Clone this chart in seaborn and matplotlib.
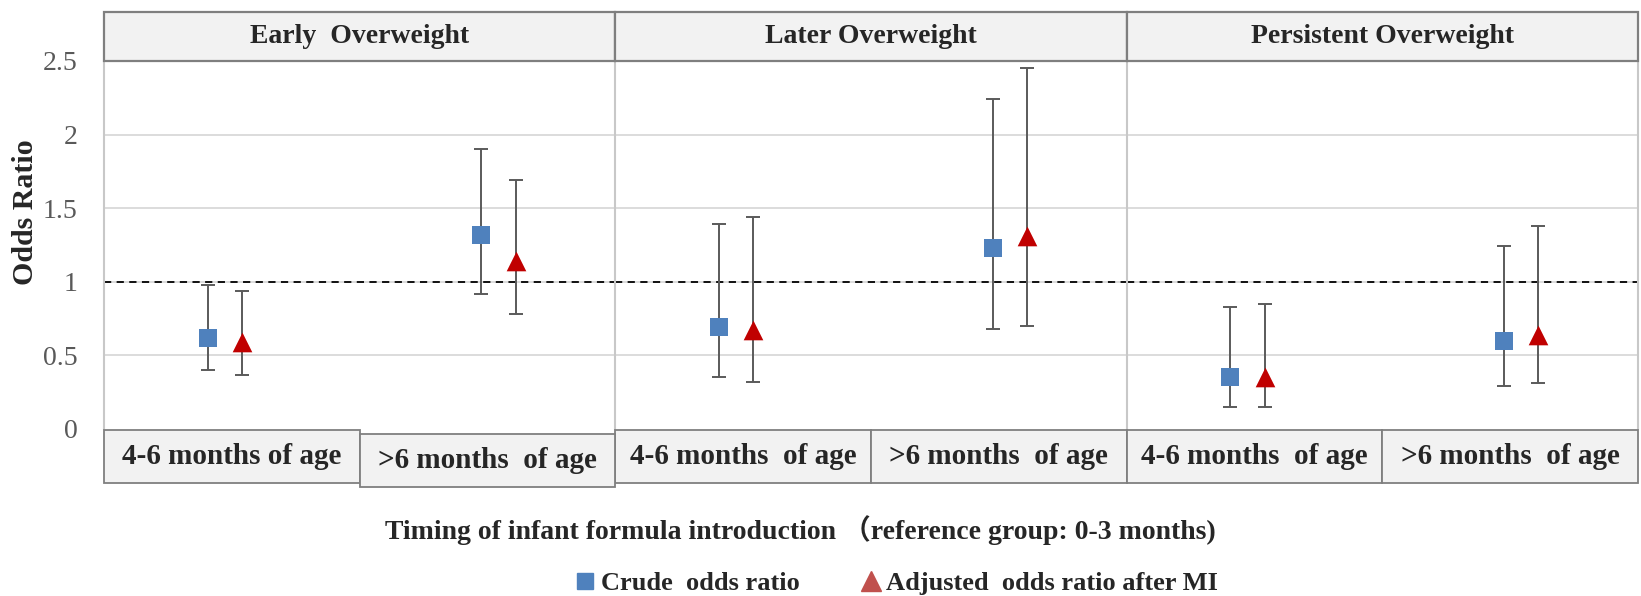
import numpy as np
import pandas as pd
import matplotlib
matplotlib.use("Agg")
import matplotlib.pyplot as plt
from matplotlib.patches import Rectangle
from matplotlib.lines import Line2D
import seaborn as sns

# ---------------- data ----------------
panels = ["Early  Overweight", "Later Overweight", "Persistent Overweight"]
cat_labels = ["4-6 months of age", ">6 months  of age",
              "4-6 months  of age", ">6 months  of age",
              "4-6 months  of age", ">6 months  of age"]
series = ["Crude  odds ratio", "Adjusted  odds ratio after MI"]

crude_or = [0.62, 1.32, 0.69, 1.23, 0.35, 0.60]
crude_lo = [0.40, 0.92, 0.35, 0.68, 0.15, 0.29]
crude_hi = [0.98, 1.90, 1.39, 2.24, 0.83, 1.24]
adj_or = [0.59, 1.14, 0.67, 1.31, 0.35, 0.64]
adj_lo = [0.37, 0.78, 0.32, 0.70, 0.15, 0.31]
adj_hi = [0.94, 1.69, 1.44, 2.45, 0.85, 1.38]

y_ticks = [0, 0.5, 1, 1.5, 2, 2.5]
y_tick_labels = ["0", "0.5", "1", "1.5", "2", "2.5"]
x_title = "Timing of infant formula introduction \uff08reference group: 0-3 months)"
y_title = "Odds Ratio"

# ---------------- layout / style ----------------
W, H = 1641, 596
fig = plt.figure(figsize=(W / 100, H / 100), dpi=100)
sns.set_style("white")
SERIF = ["Liberation Serif", "Noto Sans CJK SC", "DejaVu Sans"]
plt.rcParams["font.family"] = SERIF

blue = "#4F81BD"
red = "#C00000"
err_col = "#5A5A5A"
box_fill = "#F2F2F2"
box_edge = "#7F7F7F"

left_px, right_px = 104, 1638
y0_px, ytop_px = 429, 61
head_top_px = 12.5
cat_top_px, cat_bot_px = 430, 483

def fx(px):
    return px / W

def fy(py):
    return 1 - py / H

pw = (right_px - left_px) / 3
cat_pos = [0.473, 1.543]       # x positions of each timing group on a 0..2 panel axis
offs = [-0.067, 0.067]         # series offsets
markers = ["s", "^"]
colors = [blue, red]
msizes = [150, 200]

rows = []
for p in range(3):
    for c in range(2):
        k = p * 2 + c
        rows.append(dict(panel=p, cat=c, series=series[0], val=crude_or[k],
                         lo=crude_lo[k], hi=crude_hi[k]))
        rows.append(dict(panel=p, cat=c, series=series[1], val=adj_or[k],
                         lo=adj_lo[k], hi=adj_hi[k]))
df = pd.DataFrame(rows)
df["x"] = [cat_pos[c] + offs[series.index(s)] for c, s in zip(df["cat"], df["series"])]

axes = []
for p in range(3):
    ax = fig.add_axes([fx(left_px + p * pw), fy(y0_px), fx(pw), fy(ytop_px) - fy(y0_px)])
    axes.append(ax)
    sub = df[df.panel == p]
    ax.set_xlim(0, 2)
    ax.set_ylim(0, 2.5)
    for yv in y_ticks[1:-1]:
        ax.axhline(yv, color="#D9D9D9", lw=1.3, zorder=0)
    ax.axhline(1, color="black", lw=1.3, ls=(0, (4, 3)), zorder=1)
    for si, s in enumerate(series):
        d = sub[sub.series == s]
        ax.errorbar(d["x"], d["val"], yerr=[d["val"] - d["lo"], d["hi"] - d["val"]],
                    fmt="none", ecolor=err_col, elinewidth=1.4, capsize=5,
                    capthick=1.4, zorder=2)
        sns.scatterplot(data=d, x="x", y="val", marker=markers[si], color=colors[si],
                        s=msizes[si], linewidth=0, ax=ax, zorder=3, legend=False)
    ax.set_xticks([])
    ax.set_xlabel("")
    ax.set_ylabel("")
    ax.set_yticks(y_ticks)
    if p == 0:
        ax.set_yticklabels(y_tick_labels, fontsize=20, color="#595959")
        ax.tick_params(axis="y", length=0, pad=19)
    else:
        ax.set_yticklabels([])
        ax.tick_params(axis="y", length=0)
    for sp in ["top", "bottom"]:
        ax.spines[sp].set_visible(False)
    ax.spines["left"].set_color("#C8C8C8")
    ax.spines["left"].set_linewidth(1.5)
    ax.spines["right"].set_visible(p == 2)
    ax.spines["right"].set_color("#C8C8C8")
    ax.spines["right"].set_linewidth(1.5)

    # header box
    fig.patches.append(Rectangle((fx(left_px + p * pw), fy(ytop_px)), fx(pw),
                                 fy(head_top_px) - fy(ytop_px), transform=fig.transFigure,
                                 facecolor=box_fill, edgecolor=box_edge, lw=1.6, zorder=5))
    fig.text(fx(left_px + (p + 0.5) * pw), fy((head_top_px + ytop_px) / 2), panels[p],
             ha="center", va="center", fontsize=20, fontweight="bold", zorder=6)

    # category boxes
    for c in range(2):
        k = p * 2 + c
        x0 = left_px + p * pw + c * pw / 2
        dy = 4 if k == 1 else 0
        fig.patches.append(Rectangle((fx(x0), fy(cat_bot_px + dy)), fx(pw / 2),
                                     fy(cat_top_px) - fy(cat_bot_px), transform=fig.transFigure,
                                     facecolor=box_fill, edgecolor=box_edge, lw=1.3,
                                     zorder=5 + (1 if k == 1 else 0)))
        fig.text(fx(x0 + pw / 4), fy((cat_top_px + cat_bot_px) / 2 + dy), cat_labels[k],
                 ha="center", va="center", fontsize=21, fontweight="bold", zorder=7)

fig.text(fx(26), fy(212), y_title, rotation=90, ha="center", va="center",
         fontsize=21.5, fontweight="bold")
fig.text(fx(800), fy(530), x_title, ha="center", va="center", fontsize=20,
         fontweight="bold", family=SERIF)

handles = [Line2D([], [], marker="s", color=blue, ls="", markersize=12),
           Line2D([], [], marker="^", color="#C0504D", ls="", markersize=14)]
fig.legend(handles, series, loc="center", bbox_to_anchor=(fx(895), fy(583)), ncol=2,
           frameon=False, prop=dict(family=SERIF, weight="bold", size=19),
           handletextpad=0.1, columnspacing=2.2, handlelength=1.0)

fig.savefig("out.png", dpi=100)
